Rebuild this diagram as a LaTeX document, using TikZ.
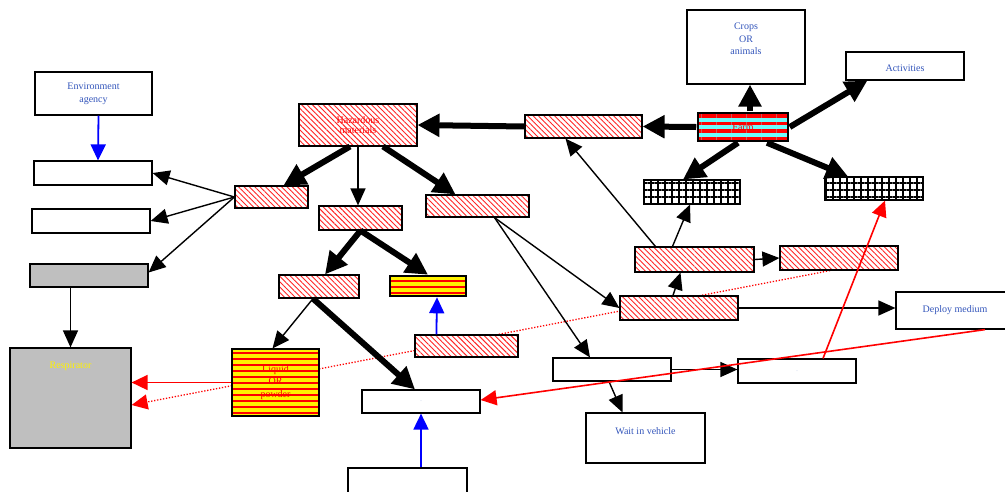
\documentclass[tikz,border=0pt]{standalone}
\usepackage{fontspec}
\setmainfont{Liberation Serif}
\usetikzlibrary{arrows.meta,patterns.meta,calc,backgrounds}
\definecolor{inkblue}{RGB}{51,85,187}
\definecolor{farmcyan}{RGB}{110,250,250}

\begin{document}
\begin{tikzpicture}[x=1pt,y=-1pt,font=\fontsize{10}{12.5}\selectfont,
    plainbox/.style={draw,line width=1.2pt,fill=white,inner sep=0pt,
      minimum width=118,minimum height=24,align=center},
    graybox/.style={plainbox,fill=black!25},
    hatchbox/.style={plainbox,preaction={fill=white},text=red,
      pattern={Lines[angle=-45,distance=3.8pt,line width=0.9pt]},pattern color=red!85},
    stripebox/.style={plainbox,preaction={fill=yellow},text=red,
      pattern={Lines[angle=0,distance=6pt,line width=2.6pt]},pattern color=red},
    farmbox/.style={plainbox,preaction={fill=farmcyan},text=red,
      pattern={Lines[angle=0,distance=7.5pt,line width=3.5pt]},pattern color=red},
    gridbox/.style={plainbox,preaction={fill=white},
      pattern={Hatch[angle=0,distance=7pt,line width=1.1pt]},pattern color=black},
    lbl/.style={text=inkblue,align=center,anchor=north},
    thinarr/.style={line width=1.4pt,-{Triangle[length=17pt,width=15pt]}},
    heavyarr/.style={line width=6pt,-{Triangle[length=22pt,width=22pt]}},
    bluearr/.style={blue,line width=1.8pt,-{Triangle[length=16pt,width=15pt]}},
    redarr/.style={red,line width=1.6pt,-{Triangle[length=16pt,width=15pt]}},
    reddots/.style={redarr,line width=1.3pt,dash pattern=on 1.3pt off 1.7pt}]
\useasboundingbox (0,0) rectangle (1005,491);

\node[plainbox,minimum width=117,minimum height=43,
  label={[lbl,yshift=-8pt]north:Environment\\agency}] (envagency) at (93.5,93.5) {};
\node[plainbox] (boxa) at (93,173) {};
\node[plainbox] (boxb) at (91,221) {};
\node[graybox,minimum height=23] (kit) at (89,275.5) {};
\node[graybox,minimum width=121,minimum height=100,
  label={[lbl,text=yellow,yshift=-11pt]north:Respirator}] (respirator) at (70.5,398) {};

\node[hatchbox,minimum height=42,font=\fontsize{10}{10.5}\selectfont] (hazmat) at (358,125) {Hazardous\\materials};
\node[hatchbox,minimum width=73,minimum height=22] (hA) at (271.5,197) {};
\node[hatchbox,minimum width=83] (hB) at (360.5,218) {};
\node[hatchbox,minimum width=103,minimum height=22] (hC) at (477.5,206) {};
\node[hatchbox,minimum width=80,minimum height=23] (hD) at (319,286.5) {};
\node[stripebox,minimum width=76,minimum height=20] (mix) at (428,286) {};
\node[stripebox,minimum width=87,minimum height=67] (liquid) at (275.5,382.5) {Liquid\\OR\\powder};
\node[hatchbox,minimum width=103,minimum height=22] (hE) at (466.5,346) {};
\node[plainbox,minimum height=23,font=\fontsize{4}{4}\selectfont,text=inkblue] (drop) at (421,401.5) {.};
\node[plainbox,minimum width=119,minimum height=50] (base) at (407.5,493) {};

\node[plainbox,minimum height=74,
  label={[lbl,yshift=-10pt]north:Crops\\OR\\animals}] (crops) at (746,47) {};
\node[plainbox,minimum height=28,
  label={[lbl,yshift=-10pt]north:Activities}] (activities) at (905,66) {};
\node[farmbox,minimum width=90,minimum height=28] (farm) at (743,127) {Farm};
\node[hatchbox,minimum width=117,minimum height=23] (hF) at (583.5,126.5) {};
\node[gridbox,minimum width=96] (gA) at (692,192) {};
\node[gridbox,minimum width=98,minimum height=23] (gB) at (874,188.5) {};
\node[hatchbox,minimum width=119,minimum height=25] (hG) at (694.5,259.5) {};
\node[hatchbox] (hH) at (839,258) {};
\node[hatchbox] (hI) at (679,308) {};
\node[plainbox,minimum height=37,text=inkblue] (deploy) at (955,310.5) {Deploy medium};
\node[plainbox,minimum height=23] (wA) at (612,369.5) {};
\node[plainbox,font=\fontsize{4}{4}\selectfont,text=inkblue] (wB) at (797,371) {.};
\node[plainbox,minimum width=119,minimum height=50,
  label={[lbl,yshift=-12pt]north:Wait in vehicle}] (wait) at (645.5,438) {};

\begin{scope}[on background layer]
\draw[reddots] ($(hH.south)+(-9,0)$) -- ($(respirator.east)+(0,7)$);
\end{scope}

\draw[bluearr] ($(envagency.south)+(5,0)$) -- ($(boxa.north)+(5,0)$);
\draw[thinarr] (hA.west) -- (boxa.east);
\draw[thinarr] (hA.west) -- (boxb.east);
\draw[thinarr] (hA.west) -- ($(kit.east)+(0,-3)$);
\draw[thinarr] (respirator.north |- kit.south) -- (respirator.north);
\draw[heavyarr] ($(hazmat.south)+(-8,0)$) -- ($(hA.north)+(12,0)$);
\draw[thinarr] (hazmat.south) -- (hazmat.south |- hB.north);
\draw[heavyarr] ($(hazmat.south)+(25,0)$) -- ($(hC.north)+(-22,0)$);
\draw[heavyarr] (hF.west) -- (hazmat.east);
\draw[heavyarr] (farm.west) -- (hF.east);
\draw[heavyarr] ($(farm.north)+(7,0)$) -- ($(crops.south)+(4,0)$);
\draw[heavyarr] (farm.east) -- ($(activities.south west)+(22,0)$);
\draw[heavyarr] ($(farm.south)+(-5,0)$) -- ($(gA.north)+(-9,0)$);
\draw[heavyarr] ($(farm.south)+(24,0)$) -- ($(gB.north)+(-26,0)$);
\draw[thinarr] ($(hG.north west)+(21,0)$) -- ($(hF.south)+(-18,0)$);
\draw[thinarr] ($(hG.north)+(-22,0)$) -- ($(gA.south)+(-2,0)$);
\draw[thinarr] ($(hI.north)+(-6,0)$) -- ($(hG.south)+(-14,0)$);
\draw[thinarr] (hG.east) -- (hH.west);
\draw[thinarr] ($(hC.south)+(17,0)$) -- (hI.west);
\draw[thinarr] ($(hC.south)+(17,0)$) -- ($(wA.north)+(-22,0)$);
\draw[thinarr] (hI.east) -- (hI.east -| deploy.west);
\draw[thinarr] (wA.east) -- (wA.east -| wB.west);
\draw[thinarr] ($(wA.south)+(-3,0)$) -- ($(wait.north)+(-23,0)$);
\draw[heavyarr] (hB.south) -- ($(hD.north)+(6,0)$);
\draw[heavyarr] (hB.south) -- (mix.north);
\draw[thinarr] ($(hD.south)+(-6,0)$) -- ($(liquid.north)+(-3,0)$);
\draw[heavyarr] ($(hD.south)+(-6,0)$) -- ($(drop.north)+(-6,0)$);
\draw[bluearr] ($(hE.north west)+(22,0)$) -- ($(mix.south)+(9,0)$);
\draw[bluearr] (drop.south |- base.north) -- (drop.south);
\draw[redarr] (liquid.west) -- (liquid.west -| respirator.east);
\draw[redarr] ($(deploy.south)+(30,0)$) -- ($(drop.east)+(0,-1.5)$);
\draw[redarr] ($(wB.north)+(26,0)$) -- ($(gB.south)+(11,0)$);
\end{tikzpicture}
\end{document}
